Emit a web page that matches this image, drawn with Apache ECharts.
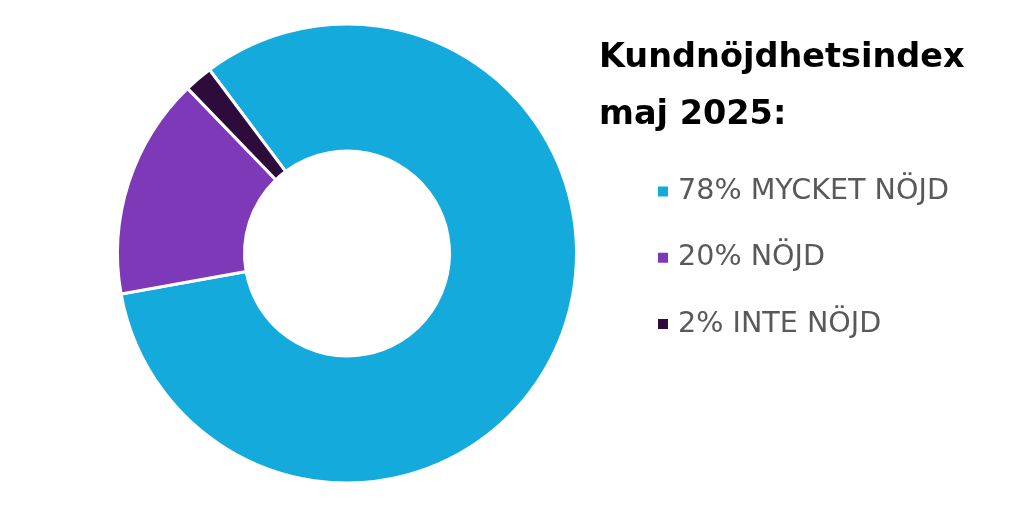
<!DOCTYPE html>
<html>
<head>
<meta charset="utf-8">
<script src="https://cdn.jsdelivr.net/npm/echarts@6/dist/echarts.min.js"></script>
<style>
html,body{margin:0;padding:0;background:#fff;}
#chart{width:1024px;height:508px;}
</style>
</head>
<body>
<div id="chart"></div>
<script>
const categories = ['78% MYCKET NÖJD', '20% NÖJD', '2% INTE NÖJD'];
const sliceValues = [82.4, 15.6, 2.0];
const colors = ['#14ABDC', '#7D39B8', '#2D0C3C'];
const titleText = 'Kundnöjdhetsindex\nmaj 2025:';

const chart = echarts.init(document.getElementById('chart'));
chart.setOption({
  animation: false,
  backgroundColor: '#ffffff',
  title: {
    text: titleText,
    left: 599,
    top: 30,
    padding: 0,
    textStyle: {
      fontFamily: 'DejaVu Sans',
      fontWeight: 'bold',
      fontSize: 33.5,
      lineHeight: 57,
      color: '#000000'
    }
  },
  legend: {
    orient: 'vertical',
    left: 656,
    top: 177,
    padding: 0,
    itemWidth: 12,
    itemHeight: 12,
    itemGap: 37.3,
    icon: 'rect',
    selectedMode: false,
    data: categories,
    textStyle: {
      fontFamily: 'DejaVu Sans',
      fontSize: 28.6,
      lineHeight: 28,
      color: '#595959',
      padding: [0, 0, 0, 4]
    }
  },
  series: [{
    type: 'pie',
    center: [347, 253.5],
    radius: [102.5, 229.5],
    startAngle: 126.8,
    clockwise: true,
    label: { show: false },
    labelLine: { show: false },
    emphasis: { disabled: true },
    itemStyle: { borderColor: '#ffffff', borderWidth: 3 },
    data: categories.map((c, i) => ({
      name: c,
      value: sliceValues[i],
      itemStyle: { color: colors[i] }
    }))
  }]
});
</script>
</body>
</html>
